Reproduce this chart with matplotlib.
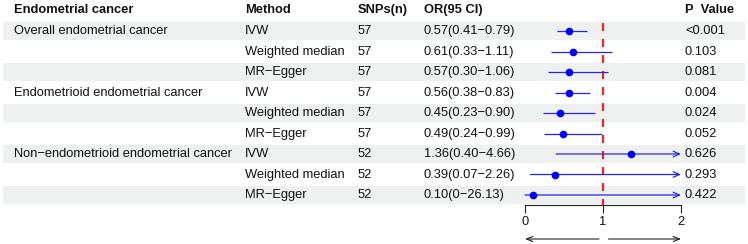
import matplotlib
matplotlib.use("Agg")
import matplotlib.pyplot as plt

plt.rcParams['font.family'] = ['Liberation Sans', 'DejaVu Sans']

# ---- data ----
groups = ["Overall endometrial cancer", "", "",
          "Endometrioid endometrial cancer", "", "",
          "Non\u2212endometrioid endometrial cancer", "", ""]
methods = ["IVW", "Weighted median", "MR\u2212Egger"] * 3
snps = [57, 57, 57, 57, 57, 57, 52, 52, 52]
or_est = [0.57, 0.61, 0.57, 0.56, 0.45, 0.49, 1.36, 0.39, 0.10]
ci_low = [0.41, 0.33, 0.30, 0.38, 0.23, 0.24, 0.40, 0.07, 0.0]
ci_high = [0.79, 1.11, 1.06, 0.83, 0.90, 0.99, 4.66, 2.26, 26.13]
or_labels = ["0.57(0.41\u22120.79)", "0.61(0.33\u22121.11)", "0.57(0.30\u22121.06)",
             "0.56(0.38\u22120.83)", "0.45(0.23\u22120.90)", "0.49(0.24\u22120.99)",
             "1.36(0.40\u22124.66)", "0.39(0.07\u22122.26)", "0.10(0\u221226.13)"]
p_values = ["<0.001", "0.103", "0.081", "0.004", "0.024", "0.052", "0.626", "0.293", "0.422"]
headers = ["Endometrial cancer", "Method", "SNPs(n)", "OR(95 CI)", "P  Value"]
xticks = [0, 1, 2]
ref_line = 1

# ---- layout ----
W, H = 748, 244
fig = plt.figure(figsize=(W / 100, H / 100), dpi=100)
top_px, bot_px = 20.75, 205.25
b = (H - bot_px) / H
h = (bot_px - top_px) / H
n = len(methods)
rows = list(range(1, n + 1))

bg = fig.add_axes([0, b, 1, h])
bg.set_xlim(0, W)
bg.set_ylim(n + 0.5, 0.5)
bg.axis('off')

fs = 9.3
txtc = '#111111'
band = '#eff0f0'
for r in rows:
    if r % 2 == 1:
        bg.barh(r, 742, left=3, height=0.9, color=band, zorder=0)

col_x = [14.5, 245, 358, 424, 685]
for x, t in zip(col_x, headers):
    bg.text(x, -0.02, t, ha='left', va='center', fontsize=fs, fontweight='bold',
            color=txtc, clip_on=False)
for r, g, m, s, o, p in zip(rows, groups, methods, snps, or_labels, p_values):
    vals = [g, m, str(s), o, p]
    for x, t in zip(col_x, vals):
        bg.text(x, r + 0.02, t, ha='left', va='center', fontsize=fs, color=txtc, clip_on=False)

# forest axes
x0_px, x2_px = 525, 681
ax = fig.add_axes([x0_px / W, b, (x2_px - x0_px) / W, h])
ax.patch.set_alpha(0)
ax.set_xlim(xticks[0], xticks[-1])
ax.set_ylim(n + 0.5, 0.5)
for sp in ['top', 'right', 'left']:
    ax.spines[sp].set_visible(False)
ax.spines['bottom'].set_linewidth(0.8)
ax.spines['bottom'].set_color('#222222')
ax.set_yticks([])
ax.set_xticks(xticks)
ax.set_xticklabels([str(t) for t in xticks], fontsize=fs, color=txtc)
ax.tick_params(axis='x', length=5.5, width=0.8, color='#222222', pad=2)

ax.plot([ref_line, ref_line], [0.6, n + 0.5], color='#e8262a', lw=1.6,
        dashes=(3.6, 3.6), zorder=1, clip_on=False)

xmax = xticks[-1]
lc = '#2525f0'
for r, e, lo, hi in zip(rows, or_est, ci_low, ci_high):
    if hi > xmax:
        ax.annotate('', xy=(xmax, r), xytext=(lo, r),
                    arrowprops=dict(arrowstyle='->,head_length=0.45,head_width=0.2',
                                    color=lc, lw=0.9, shrinkA=0, shrinkB=0),
                    annotation_clip=False, zorder=2)
    else:
        ax.plot([lo, hi], [r, r], color=lc, lw=0.9, zorder=2, solid_capstyle='butt')
    ax.plot(e, r, 'o', color='blue', markersize=4.5, zorder=3, clip_on=False)

# bottom direction arrows
ay = (239 - top_px) / 20.5 + 0.5
ax.annotate('', xy=(0, ay), xytext=(0.95, ay),
            arrowprops=dict(arrowstyle='->,head_length=0.45,head_width=0.18',
                            color='#222222', lw=0.8, shrinkA=0, shrinkB=0),
            annotation_clip=False)
ax.annotate('', xy=(2, ay), xytext=(1.07, ay),
            arrowprops=dict(arrowstyle='->,head_length=0.45,head_width=0.18',
                            color='#222222', lw=0.8, shrinkA=0, shrinkB=0),
            annotation_clip=False)

fig.savefig('out.png', dpi=100)
